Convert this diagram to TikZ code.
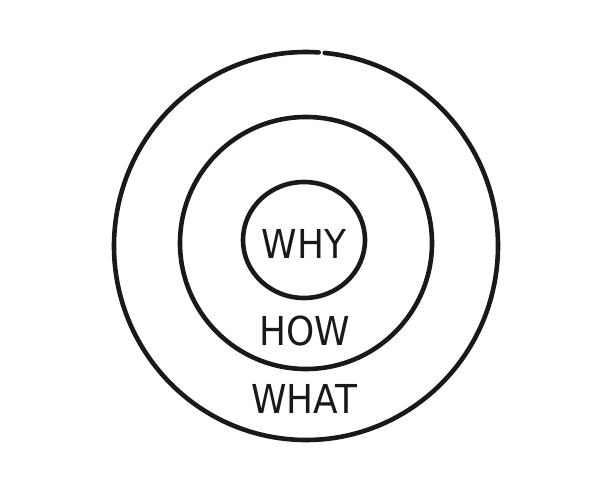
\documentclass[tikz,border=0pt]{standalone}
\usepackage{fontspec}
\newfontfamily\handfont{DejaVu Sans Condensed}
\tikzset{
  ring/.style={draw=black!90, line width=4.6pt, line cap=round},
  word/.style={font=\handfont\fontsize{40}{40}\selectfont, text=black!90, inner sep=0pt, anchor=base}
}
\begin{document}
\begin{tikzpicture}[x=1bp,y=-1bp]
\useasboundingbox (0,0) rectangle (604,486);
\fill[white] (0,0) rectangle (604,486);
% outer ring with small gap at top
\draw[ring] (306,246) ++(-84.4:192 and 194) arc[start angle=-84.4, end angle=273.8, x radius=192, y radius=194];
% middle ring
\draw[ring] (306,243) ellipse[x radius=126, y radius=126];
% inner ring
\draw[ring] (304,240) ellipse[x radius=61, y radius=58];
\node[word] (why) at (304,258) {WHY};
\node[word] (how) at (305,345) {HOW};
\node[word] (what) at (304,413) {WHAT};
\end{tikzpicture}
\end{document}
